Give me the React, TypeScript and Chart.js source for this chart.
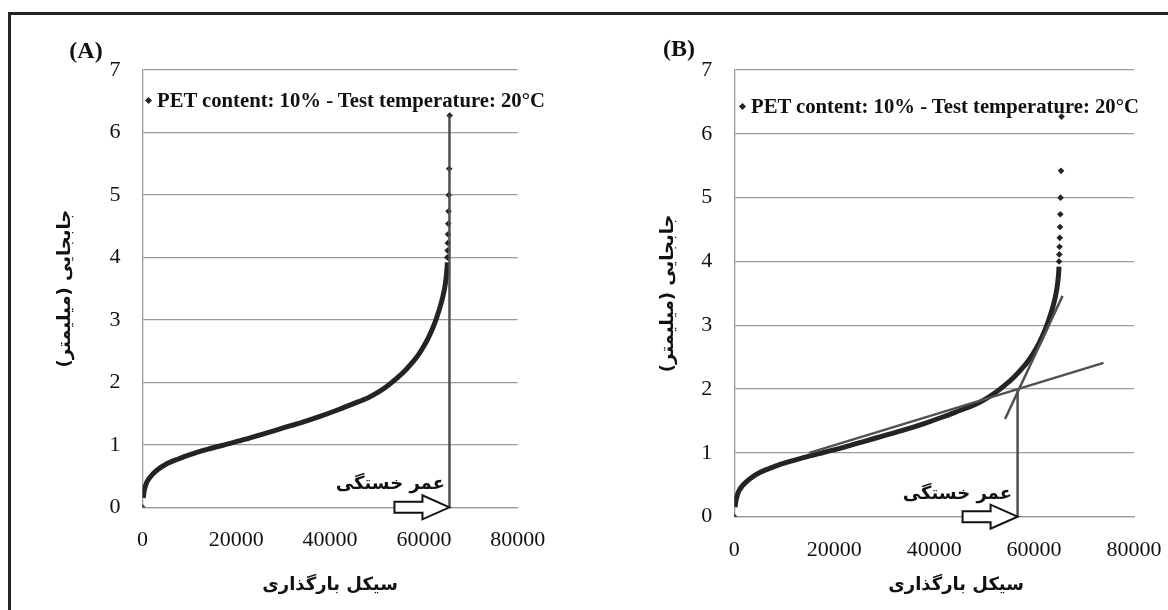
import React, { useEffect, useRef } from "react";
import { Chart, registerables } from "chart.js";

Chart.register(...registerables);

// ---------------- data ----------------
const xTicks = [0, 20000, 40000, 60000, 80000];
const yTicks = [0, 1, 2, 3, 4, 5, 6, 7];

// dense part of the measured curve (cycles vs displacement, mm)
const curveCycles = [150, 400, 900, 1800, 3200, 5000, 7500, 10000, 14000, 18000, 22000, 26000, 30000, 34000, 38000, 42000, 45000, 48000, 50000, 52000, 54000, 56000, 58000, 59000, 60000, 61000, 62000, 62700, 63500, 64000, 64400, 64700, 64900, 65000];
const curveDisp = [0.15, 0.28, 0.4, 0.5, 0.6, 0.69, 0.77, 0.84, 0.93, 1.01, 1.09, 1.18, 1.27, 1.36, 1.46, 1.57, 1.66, 1.75, 1.83, 1.93, 2.05, 2.19, 2.36, 2.46, 2.58, 2.72, 2.89, 3.03, 3.22, 3.36, 3.5, 3.65, 3.8, 3.92];

// sparse points (start point and final points before failure)
const tailCycles = [0, 65000, 65050, 65100, 65150, 65200, 65250, 65300, 65400, 65500];
const tailDisp = [0, 4.0, 4.11, 4.23, 4.37, 4.54, 4.74, 5.0, 5.42, 6.27];

// panel A: fatigue life marker
const lifeLineACycles = [65450, 65450];
const lifeLineADisp = [0, 6.27];

// panel B: tangent construction
const tangentShallowCycles = [15000, 73900];
const tangentShallowDisp = [1.0, 2.41];
const tangentSteepCycles = [54200, 65700];
const tangentSteepDisp = [1.53, 3.46];
const lifeLineBCycles = [56700, 56700];
const lifeLineBDisp = [0, 2.0];

const legendText = "PET content: 10% - Test temperature: 20°C";
const xTitle = "سیکل بارگذاری";
const yTitle = "\u202Bجابجایی (میلیمتر)\u202C";
const lifeLabel = "عمر خستگی";

// ---------------- styles ----------------
const SERIF = "'Liberation Serif', 'Times New Roman', serif";
const ARABIC = "'DejaVu Sans', 'Liberation Serif', sans-serif";
const DARK = "#242424";
const LINE = "#505050";
const GRID = "#9a9a9a";

const pts = (xs: number[], ys: number[]) => xs.map((x, i) => ({ x, y: ys[i] }));

const arrowPlugin = (tipValue: number) => ({
  id: "lifeArrow",
  afterDatasetsDraw(chart: any) {
    const { ctx, scales } = chart;
    const tx = scales.x.getPixelForValue(tipValue);
    const ty = scales.y.getPixelForValue(0);
    const len = 55, headLen = 27, headH = 12, shaftH = 5.5;
    ctx.save();
    ctx.beginPath();
    ctx.moveTo(tx, ty);
    ctx.lineTo(tx - headLen, ty - headH);
    ctx.lineTo(tx - headLen, ty - shaftH);
    ctx.lineTo(tx - len, ty - shaftH);
    ctx.lineTo(tx - len, ty + shaftH);
    ctx.lineTo(tx - headLen, ty + shaftH);
    ctx.lineTo(tx - headLen, ty + headH);
    ctx.closePath();
    ctx.fillStyle = "#ffffff";
    ctx.fill();
    ctx.lineWidth = 2;
    ctx.strokeStyle = "#111";
    ctx.stroke();
    ctx.restore();
  },
});

type PanelCfg = {
  padRight: number;
  yWidth: number;
  xHeight: number;
  yTitlePad: number;
  xTitleText: string;
  lines: any[];
  arrowAt: number;
};

function makeConfig(p: PanelCfg) {
  const curve = {
    data: pts(curveCycles, curveDisp),
    showLine: true,
    borderColor: DARK,
    borderWidth: 5,
    pointRadius: 0,
    tension: 0.3,
  };
  const tail = {
    data: pts(tailCycles, tailDisp),
    showLine: false,
    pointStyle: "rectRot",
    pointRadius: 3.3,
    backgroundColor: DARK,
    borderColor: DARK,
    borderWidth: 0,
  };
  return {
    type: "scatter",
    data: { datasets: [...p.lines, tail, curve] },
    plugins: [arrowPlugin(p.arrowAt)],
    options: {
      animation: false,
      responsive: false,
      devicePixelRatio: 1,
      layout: { autoPadding: false, padding: { top: 70, right: p.padRight, bottom: 0, left: 0 } },
      plugins: { legend: { display: false }, tooltip: { enabled: false } },
      scales: {
        x: {
          type: "linear",
          min: 0,
          max: 80000,
          afterBuildTicks: (s: any) => {
            s.ticks = xTicks.map((v) => ({ value: v }));
          },
          afterFit: (s: any) => {
            s.height = p.xHeight;
            s.paddingLeft = 0;
            s.paddingRight = 0;
          },
          grid: { display: false, drawTicks: false },
          border: { display: true, color: GRID, width: 1.3 },
          ticks: {
            padding: 20,
            color: "#111",
            font: { family: SERIF, size: 22 },
            maxRotation: 0,
            callback: (v: any) => String(v),
          },
          title: {
            display: true,
            text: p.xTitleText,
            color: "#111",
            font: { family: ARABIC, size: 18, weight: "bold" },
            padding: { top: 0, bottom: 14 },
          },
        },
        y: {
          type: "linear",
          min: 0,
          max: 7,
          afterBuildTicks: (s: any) => {
            s.ticks = yTicks.map((v) => ({ value: v }));
          },
          afterFit: (s: any) => {
            s.width = p.yWidth;
            s.paddingTop = 0;
            s.paddingBottom = 0;
          },
          grid: { color: GRID, lineWidth: 1.3, drawTicks: false },
          border: { display: true, color: GRID, width: 1.3 },
          ticks: {
            padding: 22,
            color: "#111",
            font: { family: SERIF, size: 22 },
            callback: (v: any) => String(v),
          },
          title: {
            display: true,
            text: yTitle,
            color: "#111",
            font: { family: ARABIC, size: 18, weight: "bold" },
            padding: { top: p.yTitlePad, bottom: 0 },
          },
        },
      },
    },
  } as any;
}

const lineDs = (xs: number[], ys: number[]) => ({
  data: pts(xs, ys),
  showLine: true,
  borderColor: LINE,
  borderWidth: 2.5,
  pointRadius: 0,
});

function Panel({ left, cfg }: { left: number; cfg: PanelCfg }) {
  const ref = useRef<HTMLCanvasElement | null>(null);
  useEffect(() => {
    if (!ref.current) return;
    const chart = new Chart(ref.current, makeConfig(cfg));
    return () => chart.destroy();
  }, []);
  return (
    <canvas
      ref={ref}
      width={584}
      height={610}
      style={{ position: "absolute", left, top: 0, width: 584, height: 610 }}
    />
  );
}

function Legend({ x, y }: { x: number; y: number }) {
  return (
    <div style={{ position: "absolute", left: x, top: y, transform: "translateY(-50%)", display: "flex", alignItems: "center", whiteSpace: "nowrap" }}>
      <div style={{ width: 5, height: 5, background: DARK, transform: "rotate(45deg)", marginRight: 6 }} />
      <span style={{ fontFamily: SERIF, fontWeight: "bold", fontSize: 20.7, color: "#111", lineHeight: "22px" }}>{legendText}</span>
    </div>
  );
}

function Label({ x, y, text }: { x: number; y: number; text: string }) {
  return (
    <div style={{ position: "absolute", left: x, top: y, transform: "translate(-50%,-50%)", fontFamily: SERIF, fontWeight: "bold", fontSize: 24, color: "#111", lineHeight: "26px", whiteSpace: "nowrap" }}>
      {text}
    </div>
  );
}

function LifeText({ right, y }: { right: number; y: number }) {
  return (
    <div dir="rtl" style={{ position: "absolute", left: right, top: y, transform: "translate(-100%,-50%)", fontFamily: ARABIC, fontWeight: "bold", fontSize: 18, color: "#111", lineHeight: "24px", whiteSpace: "nowrap" }}>
      {lifeLabel}
    </div>
  );
}

export default function App() {
  useEffect(() => {
    document.body.style.margin = "0";
    document.body.style.overflow = "hidden";
  }, []);

  const cfgA: PanelCfg = {
    padRight: 66.3,
    yWidth: 142.5,
    xHeight: 102.7,
    yTitlePad: 55,
    xTitleText: xTitle,
    lines: [lineDs(lifeLineACycles, lifeLineADisp)],
    arrowAt: lifeLineACycles[0],
  };
  const cfgB: PanelCfg = {
    padRight: 34,
    yWidth: 150.3,
    xHeight: 93.3,
    yTitlePad: 74,
    // trailing no-break spaces sit at the visual left in RTL, nudging the title right
    xTitleText: "\u202B" + xTitle + "\u00A0\u00A0\u00A0\u00A0\u00A0\u00A0\u00A0\u202C",
    lines: [
      lineDs(lifeLineBCycles, lifeLineBDisp),
      lineDs(tangentSteepCycles, tangentSteepDisp),
      lineDs(tangentShallowCycles, tangentShallowDisp),
    ],
    arrowAt: lifeLineBCycles[0],
  };

  return (
    <div style={{ position: "relative", width: 1168, height: 610, overflow: "hidden", background: "#fff" }}>
      <div style={{ position: "absolute", left: 8, top: 12, right: -10, bottom: -10, borderLeft: `3px solid ${DARK}`, borderTop: `3px solid ${DARK}` }} />
      <Panel left={0} cfg={cfgA} />
      <Panel left={584} cfg={cfgB} />
      <Label x={86} y={50} text="(A)" />
      <Label x={679} y={48} text="(B)" />
      <Legend x={146} y={100} />
      <Legend x={740} y={106} />
      <LifeText right={445} y={483} />
      <LifeText right={1012} y={493} />
    </div>
  );
}
